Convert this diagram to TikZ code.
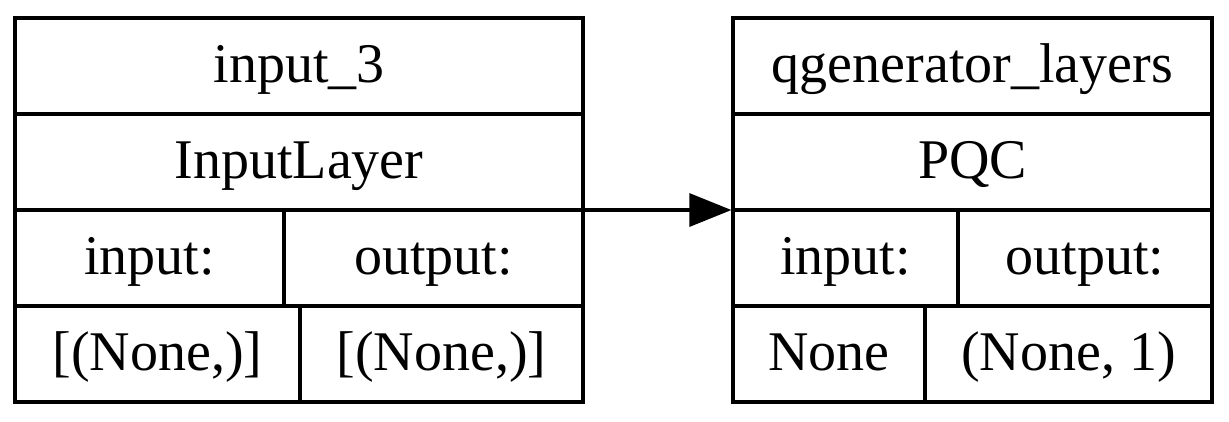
\documentclass[tikz,border=0pt]{standalone}
\usepackage{fontspec}
\setmainfont{Liberation Serif}
\usetikzlibrary{arrows.meta}
\begin{document}
\begin{tikzpicture}[x=0.25pt,y=-0.25pt,
  rec/.style={draw=black, line width=0.8pt, rectangle, inner sep=0pt, minimum height=96pt},
  sep/.style={draw=black, line width=0.8pt},
  lbl/.style={anchor=base, inner sep=0pt, font=\fontsize{14pt}{16pt}\selectfont},
  edge/.style={draw=black, line width=0.8pt, -{Triangle[length=10.5pt,width=8.25pt]}}]
\useasboundingbox (0,0) rectangle (1229,421);
% boxes
\node[rec, minimum width=142pt] (left) at (299,210) {};
\node[rec, minimum width=119.75pt] (right) at (972.5,210) {};
% left separators
\draw[sep] (15,114) -- (583,114);
\draw[sep] (15,210) -- (583,210);
\draw[sep] (15,306) -- (583,306);
\draw[sep] (284,210) -- (284,306);
\draw[sep] (300,306) -- (300,402);
% right separators
\draw[sep] (733,114) -- (1212,114);
\draw[sep] (733,210) -- (1212,210);
\draw[sep] (733,306) -- (1212,306);
\draw[sep] (958,210) -- (958,306);
\draw[sep] (925,306) -- (925,402);
% left labels
\node[lbl] (lname) at (299,82) {input\_3};
\node[lbl] (ltype) at (299,178) {InputLayer};
\node[lbl] (lin) at (149.5,274) {input:};
\node[lbl] (lout) at (433.5,274) {output:};
\node[lbl] (linv) at (157.5,370) {[(None,)]};
\node[lbl] (loutv) at (441.5,370) {[(None,)]};
% right labels
\node[lbl] (rname) at (972.5,82) {qgenerator\_layers};
\node[lbl] (rtype) at (972.5,178) {PQC};
\node[lbl] (rin) at (845.5,274) {input:};
\node[lbl] (rout) at (1085,274) {output:};
\node[lbl] (rinv) at (829,370) {None};
\node[lbl] (routv) at (1068.5,370) {(None, 1)};
% connector
\draw[edge] (left.east) -- (right.west);
\end{tikzpicture}
\end{document}
